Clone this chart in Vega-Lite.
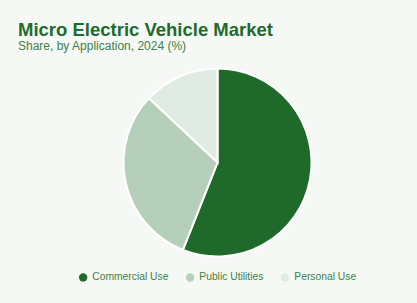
{
  "$schema": "https://vega.github.io/schema/vega-lite/v6.json",
  "width": 417,
  "height": 303,
  "autosize": {"type": "fit", "contains": "padding"},
  "padding": {"left": 18, "right": 0, "top": 20, "bottom": 20},
  "background": "#f6f8f6",
  "title": {
    "text": "Micro Electric Vehicle Market",
    "subtitle": "Share, by Application, 2024 (%)",
    "anchor": "start",
    "font": "Liberation Sans",
    "fontSize": 18.5,
    "fontWeight": 900,
    "color": "#1e6b2a",
    "subtitleFont": "Liberation Sans",
    "subtitleFontSize": 12,
    "subtitleColor": "#3d8046",
    "subtitlePadding": 2,
    "offset": 7
  },
  "data": {
    "values": [
      {"application": "Commercial Use", "share": 56, "rank": 1},
      {"application": "Public Utilities", "share": 31, "rank": 2},
      {"application": "Personal Use", "share": 13, "rank": 3}
    ]
  },
  "mark": {"type": "arc", "stroke": "#ffffff", "strokeWidth": 2, "radius": 94},
  "encoding": {
    "theta": {"field": "share", "type": "quantitative", "stack": true},
    "order": {"field": "rank", "type": "quantitative"},
    "color": {
      "field": "application",
      "type": "nominal",
      "sort": ["Commercial Use", "Public Utilities", "Personal Use"],
      "scale": {
        "domain": ["Commercial Use", "Public Utilities", "Personal Use"],
        "range": ["#1f6a2a", "#b6cfba", "#e0ebe3"]
      },
      "legend": {
        "orient": "bottom",
        "direction": "horizontal",
        "title": null,
        "symbolType": "circle",
        "symbolSize": 70,
        "symbolStrokeWidth": 0,
        "labelColor": "#3d8046",
        "labelFont": "Liberation Sans",
        "labelFontSize": 10.3,
        "columnPadding": 16,
        "offset": 6
      }
    }
  },
  "config": {
    "view": {"stroke": null},
    "legend": {"layout": {"bottom": {"anchor": "middle"}}}
  }
}
